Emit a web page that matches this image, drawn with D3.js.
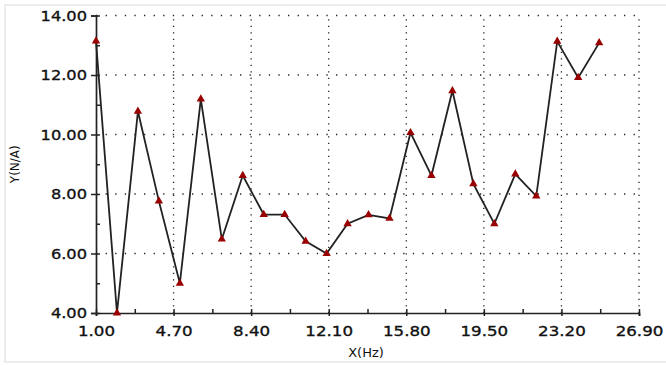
<!DOCTYPE html>
<html>
<head>
<meta charset="utf-8">
<script src="https://cdn.jsdelivr.net/npm/d3@7"></script>
<style>
  html, body { margin: 0; padding: 0; background: #fff; }
  svg { display: block; }
  text { font-family: "DejaVu Sans", Verdana, sans-serif; }
</style>
</head>
<body>
<svg id="chart" width="666" height="365"></svg>
<script>
// ---- data ----
const xValues = [1,2,3,4,5,6,7,8,9,10,11,12,13,14,15,16,17,18,19,20,21,22,23,24,25];
const yValues = [13.14,4.0,10.78,7.76,5.0,11.19,6.48,8.62,7.31,7.31,6.41,6.0,7.0,7.3,7.18,10.06,8.62,11.47,8.34,7.0,8.67,7.93,13.13,11.91,13.08];
const xTickLabels = [1.00,4.70,8.40,12.10,15.80,19.50,23.20,26.90];
const xMinorTicks = [2.85,6.55,10.25,13.95,17.65,21.35,25.05];
const yTickLabels = [4,6,8,10,12,14];
const yMinorTicks = [5,7,9,11,13];
const xTitle = "X(Hz)";
const yTitle = "Y(N/A)";

const svg = d3.select("#chart");

// frame
svg.append("rect").attr("x", 5).attr("y", 5).attr("width", 700).attr("height", 357)
  .attr("fill", "none").attr("stroke", "#ececec").attr("stroke-width", 2);

const x = d3.scaleLinear().domain([1, 26.9]).range([96, 639]);
const y = d3.scaleLinear().domain([4, 14]).range([313, 15.5]);

// grid
const grid = svg.append("g");
grid.selectAll("line.h").data(yTickLabels.filter(v => v > 4)).join("line")
  .attr("x1", x(1)).attr("x2", x(26.9))
  .attr("y1", d => y(d)).attr("y2", d => y(d))
  .attr("stroke", "#222").attr("stroke-width", 1.3).attr("stroke-dasharray", "1.3,8.3");
grid.selectAll("line.v").data(xTickLabels.filter(v => v > 1)).join("line")
  .attr("x1", d => x(d)).attr("x2", d => x(d))
  .attr("y1", y(4)).attr("y2", y(14))
  .attr("stroke", "#222").attr("stroke-width", 1.3).attr("stroke-dasharray", "1.3,5.2");

// axes
const fmt = d3.format(".2f");
const yAxis = svg.append("g").attr("transform", `translate(${x(1)},0)`)
  .call(d3.axisLeft(y).tickValues(yTickLabels).tickFormat(fmt).tickSize(5).tickPadding(4));
const yMinor = svg.append("g").attr("transform", `translate(${x(1)},0)`)
  .call(d3.axisRight(y).tickValues(yTickLabels.concat(yMinorTicks)).tickFormat("").tickSize(4));
const xAxis = svg.append("g").attr("transform", `translate(0,${y(4)})`)
  .call(d3.axisBottom(x).tickValues(xTickLabels).tickFormat(fmt).tickSize(3).tickPadding(10));
const xMinor = svg.append("g").attr("transform", `translate(0,${y(4)})`)
  .call(d3.axisTop(x).tickValues(xTickLabels.concat(xMinorTicks)).tickFormat("").tickSize(4));

[yAxis, yMinor, xAxis, xMinor].forEach(g => {
  g.select(".domain").attr("stroke", "#222").attr("stroke-width", 1.7);
  g.selectAll(".tick line").attr("stroke", "#222").attr("stroke-width", 1.5);
});
yMinor.select(".domain").remove();
xMinor.select(".domain").remove();
yAxis.selectAll(".tick text")
  .attr("font-size", 14.5).attr("fill", "#111").attr("stroke", "#111").attr("stroke-width", 0.35)
  .attr("font-family", "DejaVu Sans, Verdana, sans-serif")
  .attr("transform", "translate(-9,0) scale(1.12,1) translate(9,0)");
xAxis.selectAll(".tick text")
  .attr("font-size", 14.5).attr("fill", "#111").attr("stroke", "#111").attr("stroke-width", 0.35)
  .attr("font-family", "DejaVu Sans, Verdana, sans-serif")
  .attr("transform", "scale(1.15,1)");

// titles
svg.append("text").attr("x", 366).attr("y", 357).attr("text-anchor", "middle")
  .attr("font-size", 13).attr("fill", "#111").text(xTitle);
svg.append("text").attr("transform", `translate(19,${(y(4)+y(14))/2}) rotate(-90)`)
  .attr("text-anchor", "middle").attr("font-size", 12).attr("fill", "#111").text(yTitle);

// line
const pts = xValues.map((v, i) => [v, yValues[i]]);
svg.append("path").datum(pts)
  .attr("fill", "none").attr("stroke", "#222").attr("stroke-width", 1.8)
  .attr("d", d3.line().x(d => x(d[0])).y(d => y(d[1])));

// markers
const tri = d3.symbol().type(d3.symbolTriangle).size(30);
svg.append("g").selectAll("path").data(pts).join("path")
  .attr("transform", d => `translate(${x(d[0])},${y(d[1])})`)
  .attr("d", tri).attr("fill", "#990000");
</script>
</body>
</html>
